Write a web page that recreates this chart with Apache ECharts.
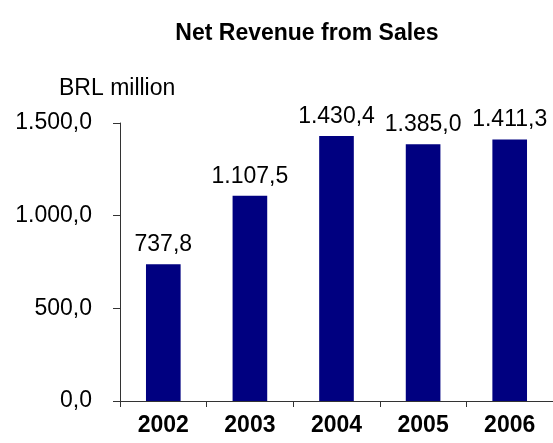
<!DOCTYPE html>
<html>
<head>
<meta charset="utf-8">
<script src="https://cdn.jsdelivr.net/npm/echarts@6/dist/echarts.min.js"></script>
<style>
  html, body { margin: 0; padding: 0; background: #ffffff; }
  #chart { width: 553px; height: 443px; }
</style>
</head>
<body>
<div id="chart"></div>
<script>
// Net revenue from sales, BRL million
const years = ['2002', '2003', '2004', '2005', '2006'];
const revenue = [737.8, 1107.5, 1430.4, 1385.0, 1411.3];
const yTicks = [0, 500, 1000, 1500];

// Brazilian number style: thousands with '.', decimals with ','
function fmtBR(v) {
  const parts = Number(v).toFixed(1).split('.');
  const intPart = parts[0].replace(/\B(?=(\d{3})+(?!\d))/g, '.');
  return intPart + ',' + parts[1];
}

const FONT = 'Liberation Sans, Arial, sans-serif';
const chart = echarts.init(document.getElementById('chart'), null, { renderer: 'canvas' });

chart.setOption({
  animation: false,
  backgroundColor: '#ffffff',
  title: [
    {
      text: 'Net Revenue from Sales',
      left: 302, top: 17, textAlign: 'center',
      textStyle: { fontFamily: FONT, fontWeight: 'bold', fontSize: 23, color: '#000' }
    },
    {
      text: 'BRL million',
      left: 54, top: 72,
      textStyle: { fontFamily: FONT, fontWeight: 'normal', fontSize: 23, color: '#000' }
    }
  ],
  grid: { left: 120, top: 123, height: 278, width: 437.5, containLabel: false },
  xAxis: {
    type: 'category',
    data: years,
    axisLine: { lineStyle: { color: '#333', width: 1 } },
    axisTick: { show: true, length: 6, lineStyle: { color: '#333' } },
    axisLabel: {
      margin: 13,
      fontFamily: FONT, fontWeight: 'bold', fontSize: 23, color: '#000'
    }
  },
  yAxis: {
    type: 'value',
    min: yTicks[0],
    max: yTicks[yTicks.length - 1],
    interval: yTicks[1] - yTicks[0],
    splitLine: { show: false },
    axisLine: { show: true, lineStyle: { color: '#333', width: 1 } },
    axisTick: { show: true, length: 7, lineStyle: { color: '#333' } },
    axisLabel: {
      margin: 28,
      formatter: fmtBR,
      fontFamily: FONT, fontSize: 23, color: '#000'
    }
  },
  series: [{
    type: 'bar',
    data: revenue,
    barWidth: '40%',
    itemStyle: { color: '#000080' },
    label: {
      show: true,
      position: 'top',
      distance: 8,
      formatter: p => fmtBR(p.value),
      fontFamily: FONT, fontSize: 23, color: '#000'
    }
  }]
});
</script>
</body>
</html>
